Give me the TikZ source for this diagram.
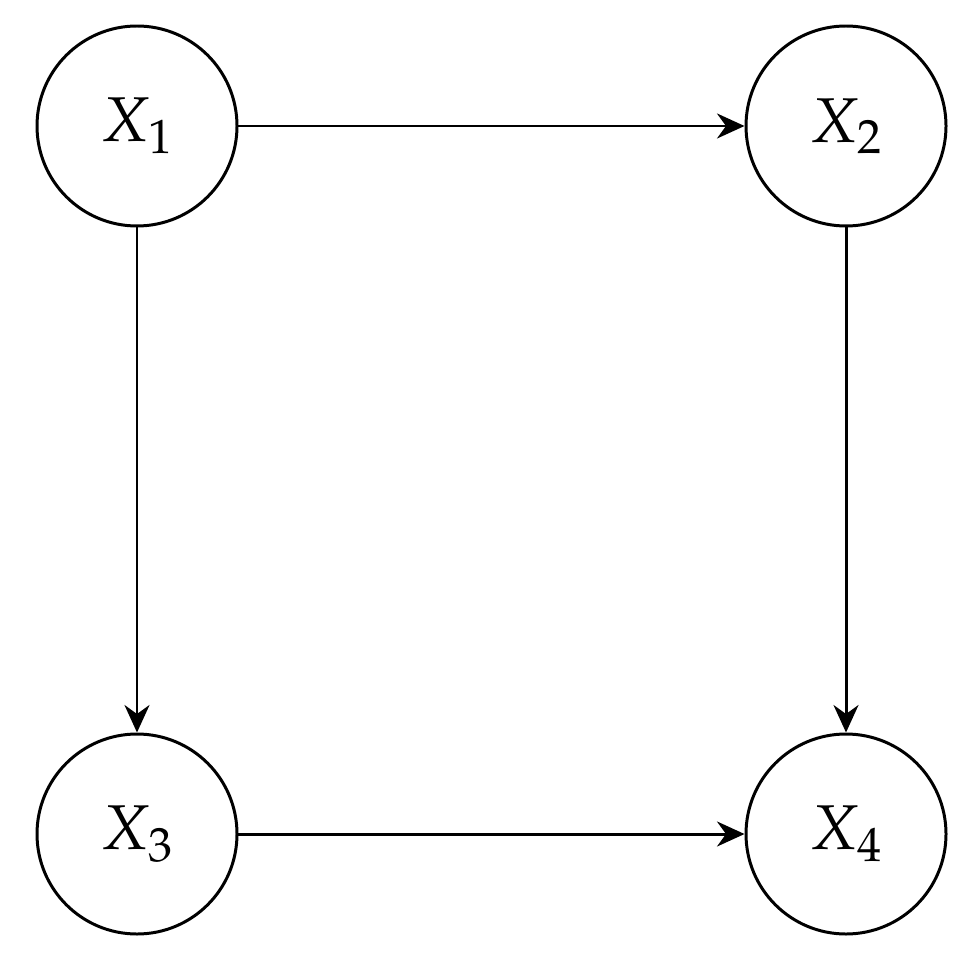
\documentclass[tikz,border=0pt]{standalone}
\usepackage{mathpazo}
\usetikzlibrary{arrows.meta}
\begin{document}
\begin{tikzpicture}[
  var/.style={circle, draw, line width=1.7pt, minimum size=4cm, inner sep=0pt, font=\fontsize{36}{40}\selectfont},
  arr/.style={line width=1.7pt, -{Stealth[length=0.55cm,width=0.5cm,inset=0.18cm]}}
]
\useasboundingbox (0,0) rectangle (19.44,-19.32);
\node[var] (x1) at (2.74,-2.52) {$X_1$};
\node[var] (x2) at (16.92,-2.52) {$X_2$};
\node[var] (x3) at (2.74,-16.68) {$X_3$};
\node[var] (x4) at (16.92,-16.68) {$X_4$};
\draw[arr] (x1) -- (x2);
\draw[arr] (x1) -- (x3);
\draw[arr] (x2) -- (x4);
\draw[arr] (x3) -- (x4);
\end{tikzpicture}
\end{document}
